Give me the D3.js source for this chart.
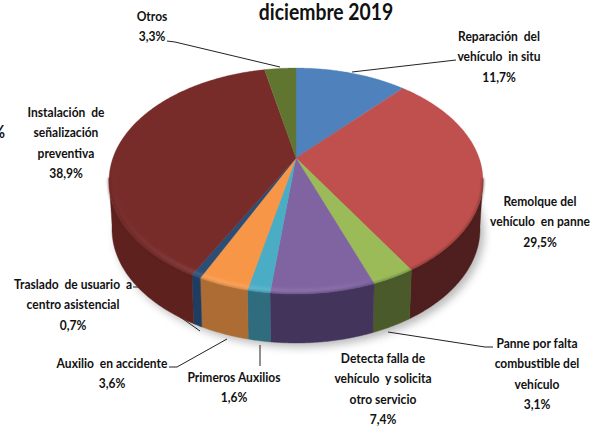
<!DOCTYPE html>
<html>
<head>
<meta charset="utf-8">
<script src="https://cdn.jsdelivr.net/npm/d3@7"></script>
<style>
  html, body { margin: 0; padding: 0; background: #fff; }
  svg { display: block; }
  text { font-family: Lato, "Liberation Sans", sans-serif; fill: #111; }
</style>
</head>
<body>
<div class="container"></div>
<script>
// values
const categories = [
    "Reparación del vehículo in situ",
    "Remolque del vehículo en panne",
    "Panne por falta combustible del vehículo",
    "Detecta falla de vehículo y solicita otro servicio",
    "Primeros Auxilios",
    "Auxilio en accidente",
    "Traslado de usuario a centro asistencial",
    "Instalación de señalización preventiva",
    "Otros",
];
const values = [11.7, 29.5, 3.1, 7.4, 1.6, 3.6, 0.7, 38.9, 3.3];
const valueLabels = ["11,7%", "29,5%", "3,1%", "7,4%", "1,6%", "3,6%", "0,7%", "38,9%", "3,3%"];
const labelLines = [
    ["Reparación  del", "vehículo  in situ"],
    ["Remolque del", "vehículo  en panne"],
    ["Panne por falta", "combustible del", "vehículo"],
    ["Detecta falla de", "vehículo  y solicita", "otro servicio"],
    ["Primeros Auxilios"],
    ["Auxilio  en accidente"],
    ["Traslado  de usuario  a", "centro asistencial"],
    ["Instalación  de", "señalización", "preventiva"],
    ["Otros"],
];
const titleText = "diciembre 2019";

// look
const topColors = ["#4f81bd", "#c0504d", "#9bbb59", "#8064a2", "#4bacc6", "#f79646", "#2c4d75", "#772c2a", "#5f7530"];
const wallColors = ["#2f4d71", "#4e1f1e", "#4a5a2a", "#43345c", "#2f6d7e", "#ad6c33", "#1f3d63", "#5e211e", "#3f4f20"];

// label layout: centre x, baseline of first line
const labelPos = [[499, 41], [540, 206], [537, 348], [383, 363], [234, 382], [112, 368], [73, 289], [66, 117], [152, 21]];
const leaders = [
    [[456, 60], [352, 72]],
    [[493, 347], [485, 347], [388, 332]],
    [[260, 345], [260, 366]],
    [[169, 367], [177, 367], [227, 339]],
    [[133, 287], [138, 287], [200, 331]],
    [[167, 41], [175, 42], [280, 67]],
];

const width = 605, height = 430;
const cx = 296, cy = 181, rx = 187, ry = 113;      // top face
const bx = 296, by = 229, brx = 184, bry = 114;    // bottom edge of the wall
const tilt = 0.2035;                               // perspective shift of the pie centre
const squeeze = 0.86;                              // the reference text is narrow

const svg = d3.select(".container").append("svg")
    .attr("width", width).attr("height", height);
const defs = svg.append("defs");

const blur = (id, dev) => defs.append("filter").attr("id", id)
    .attr("x", "-20%").attr("y", "-20%").attr("width", "140%").attr("height", "140%")
    .append("feGaussianBlur").attr("stdDeviation", dev);
blur("shadow", 4);
blur("soft", 1.6);
blur("soft2", 0.9);

const hl = defs.append("linearGradient").attr("id", "hl")
    .attr("gradientUnits", "userSpaceOnUse")
    .attr("x1", cx - rx).attr("x2", cx + rx).attr("y1", 0).attr("y2", 0);
hl.append("stop").attr("offset", "0%").attr("stop-color", "#fff").attr("stop-opacity", 0);
hl.append("stop").attr("offset", "30%").attr("stop-color", "#fff").attr("stop-opacity", 0.13);
hl.append("stop").attr("offset", "60%").attr("stop-color", "#fff").attr("stop-opacity", 0.08);
hl.append("stop").attr("offset", "75%").attr("stop-color", "#fff").attr("stop-opacity", 0);

// disc angle -> unit ellipse, clockwise from 12 o'clock, with the centre pushed up
const project = (a) => {
    const X = Math.sin(a), Y = Math.cos(a);
    const den = 1 + tilt * Y;
    return [X * Math.sqrt(1 - tilt * tilt) / den, (Y + tilt) / den];
};
const onTop = (a, k = 1) => {
    const p = project(a);
    return [cx + k * rx * p[0], cy - k * ry * p[1]];
};
const onBottom = (a) => {
    const p = project(a);
    return [bx + brx * p[0], by - bry * p[1]];
};
const samples = (a0, a1) => d3.range(0, 1.0001, 1 / Math.max(2, Math.ceil((a1 - a0) * 120)))
    .map((t) => a0 + (a1 - a0) * t);

const arcs = d3.pie().sort(null).value((d) => d)(values);
const line = d3.line();

// shadow under the pie
svg.append("path")
    .attr("d", line(samples(0, 2 * Math.PI).map(onBottom).map((p) => [p[0] + 4, p[1] + 4])) + "Z")
    .attr("fill", "#8a8a8a")
    .attr("opacity", 0.6)
    .attr("filter", "url(#shadow)");

// leader lines, the pie hides part of them
svg.append("g").selectAll("path").data(leaders).join("path")
    .attr("d", (d) => line(d))
    .attr("fill", "none")
    .attr("stroke", "#222")
    .attr("stroke-width", 1);

// walls
const wallPts = (d) => samples(d.startAngle, d.endAngle).filter((a) => project(a)[1] <= 0.03);
svg.append("g").selectAll("path").data(arcs.filter((d) => wallPts(d).length > 1)).join("path")
    .attr("d", (d) => {
        const pts = wallPts(d);
        return line(pts.map((a) => onTop(a)).concat(pts.slice().reverse().map(onBottom))) + "Z";
    })
    .attr("fill", (d) => wallColors[d.index])
    .attr("stroke", (d) => wallColors[d.index])
    .attr("stroke-width", 0.4);

// top face
const faces = svg.append("g");
faces.selectAll("path").data(arcs).join("path")
    .attr("d", (d) => line([[cx, cy - ry * tilt]]
        .concat(samples(d.startAngle, d.endAngle).map((a) => onTop(a)))) + "Z")
    .attr("fill", (d) => topColors[d.index])
    .attr("stroke", (d) => topColors[d.index])
    .attr("stroke-width", 0.3);

// soft rim between face and wall
defs.append("clipPath").attr("id", "belowHalf").append("rect")
    .attr("x", 0).attr("y", cy - 8).attr("width", width).attr("height", height);
const rimLayer = svg.append("g").attr("clip-path", "url(#belowHalf)");
rimLayer.selectAll("path").data(arcs.filter((d) => wallPts(d).length > 1)).join("path")
    .attr("d", (d) => line(wallPts(d).map((a) => onTop(a, 1.0))))
    .attr("fill", "none")
    .attr("stroke", (d) => wallColors[d.index])
    .attr("stroke-width", 2.5)
    .attr("opacity", 0.45)
    .attr("filter", "url(#soft2)");
rimLayer.append("path")
    .attr("d", line(samples(Math.PI * 0.5, Math.PI * 1.5).map((a) => onTop(a, 0.975))))
    .attr("fill", "none")
    .attr("stroke", "url(#hl)")
    .attr("stroke-width", 4)
    .attr("filter", "url(#soft)");

// labels
const labels = svg.append("g")
    .attr("transform", `scale(${squeeze},1)`)
    .attr("font-size", 14).attr("font-weight", 700).attr("text-anchor", "middle");
categories.forEach((name, i) => {
    const rows = labelLines[i].concat(valueLabels[i]);
    const t = labels.append("text").attr("aria-label", name).style("white-space", "pre");
    rows.forEach((row, j) => {
        t.append("tspan")
            .attr("x", labelPos[i][0] / squeeze)
            .attr("y", labelPos[i][1] + j * 20.5)
            .text(row);
    });
});

// title, and the end of the cut off axis title at the left edge
svg.append("text")
    .attr("transform", `scale(${squeeze},1)`)
    .attr("x", 326 / squeeze).attr("y", 20)
    .attr("text-anchor", "middle")
    .attr("font-size", 22.5).attr("font-weight", 700)
    .attr("fill", "#000")
    .text(titleText);
svg.append("text")
    .attr("transform", `scale(${squeeze},1)`)
    .attr("x", 5 / squeeze).attr("y", 138)
    .attr("text-anchor", "end")
    .attr("font-size", 17).attr("font-weight", 700)
    .text("%");
</script>
</body>
</html>
